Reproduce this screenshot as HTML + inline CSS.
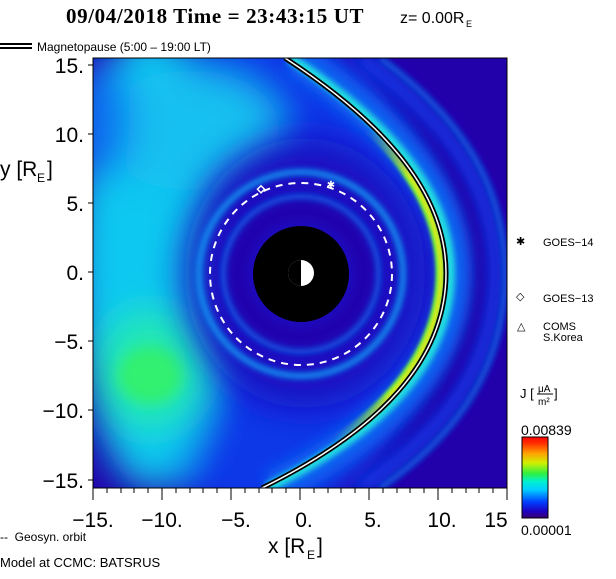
<!DOCTYPE html>
<html><head><style>
body{margin:0;background:#fff;width:616px;height:574px;overflow:hidden;font-family:"Liberation Sans",sans-serif}
svg text{font-family:"Liberation Sans",sans-serif}
</style></head><body>
<svg width="616" height="574" viewBox="0 0 616 574" xmlns="http://www.w3.org/2000/svg">
<defs>
<filter id="b20" x="-50%" y="-50%" width="200%" height="200%"><feGaussianBlur stdDeviation="18"/></filter>
<filter id="b8" x="-50%" y="-50%" width="200%" height="200%"><feGaussianBlur stdDeviation="7"/></filter>
<filter id="b3" x="-50%" y="-50%" width="200%" height="200%"><feGaussianBlur stdDeviation="3"/></filter>
<filter id="b2" x="-50%" y="-50%" width="200%" height="200%"><feGaussianBlur stdDeviation="1.5"/></filter>
<clipPath id="c"><rect x="93" y="58" width="414" height="430"/></clipPath>
<linearGradient id="mg" x1="0" y1="0" x2="0" y2="1" gradientUnits="userSpaceOnUse" x1-="0">
</linearGradient>
<linearGradient id="mgy" gradientUnits="userSpaceOnUse" x1="0" y1="130" x2="0" y2="440">
<stop offset="0" stop-color="#000"/><stop offset="0.15" stop-color="#fff"/><stop offset="0.85" stop-color="#fff"/><stop offset="1" stop-color="#000"/>
</linearGradient>
<mask id="my"><rect x="93" y="58" width="414" height="430" fill="url(#mgy)"/></mask>
<linearGradient id="cb" x1="0" y1="1" x2="0" y2="0">
<stop offset="0" stop-color="#3a0070"/><stop offset="0.08" stop-color="#2000c0"/><stop offset="0.2" stop-color="#0040ff"/><stop offset="0.35" stop-color="#00d0ff"/><stop offset="0.45" stop-color="#00f0d0"/><stop offset="0.55" stop-color="#30f040"/><stop offset="0.68" stop-color="#d0f000"/><stop offset="0.8" stop-color="#ffa000"/><stop offset="0.92" stop-color="#ff3000"/><stop offset="1" stop-color="#ff0000"/>
</linearGradient>
</defs>
<text x="66" y="23" font-size="21" font-weight="bold" letter-spacing="0.6" style="font-family:'Liberation Serif',serif">09/04/2018 Time = 23:43:15 UT</text>
<text x="400" y="23" font-size="16">z= 0.00R</text><text x="466" y="27" font-size="9">E</text>
<line x1="0" y1="44" x2="32" y2="44" stroke="#000" stroke-width="2"/><line x1="0" y1="48" x2="32" y2="48" stroke="#000" stroke-width="2"/>
<text x="37" y="51" font-size="12">Magnetopause (5:00 – 19:00 LT)</text>
<g clip-path="url(#c)">
<rect x="93" y="58" width="414" height="430" fill="#2200aa"/>
<g filter="url(#b20)">
<ellipse cx="260" cy="272" rx="175" ry="250" fill="#0838e8"/>
<ellipse cx="150" cy="260" rx="75" ry="230" fill="#10c8f0"/>
<ellipse cx="190" cy="130" rx="90" ry="60" fill="#14c0f0"/>
<ellipse cx="150" cy="370" rx="55" ry="60" fill="#20e8b0"/>
<ellipse cx="100" cy="120" rx="30" ry="60" fill="#0a70f0"/>
</g>
<ellipse cx="150" cy="375" rx="32" ry="28" fill="#30f070" filter="url(#b8)"/>
<ellipse cx="305" cy="273" rx="120" ry="135" fill="#1a0cc0" filter="url(#b20)"/>
<circle cx="301" cy="274" r="102" fill="none" stroke="#1090f0" stroke-width="6" filter="url(#b3)"/>
<circle cx="301" cy="274" r="77" fill="none" stroke="#1070f0" stroke-width="5" filter="url(#b3)"/>
<circle cx="301" cy="274" r="63" fill="none" stroke="#2200aa" stroke-width="18" filter="url(#b8)"/>
<path d="M295,58 C390,120 455,190 455,273 C455,360 390,430 272,488" fill="none" stroke="#0a60f0" stroke-width="34" filter="url(#b8)"/>
<path d="M290,58 C385,120 450,190 450,273 C450,360 385,430 267,488" fill="none" stroke="#20e0e0" stroke-width="10" filter="url(#b3)"/>
<g mask="url(#my)"><path d="M279,58 C374,120 440,190 440,273 C440,360 374,430 256,488" fill="none" stroke="#70f040" stroke-width="9" filter="url(#b2)"/>
<path d="M280,58 C375,120 441,190 441,273 C441,360 375,430 257,488" fill="none" stroke="#e8e818" stroke-width="4" filter="url(#b2)"/></g>
<path d="M360,58 C450,120 495,190 495,273 C495,360 450,430 360,488" fill="none" stroke="#0a40f0" stroke-width="12" filter="url(#b8)"/>
<path d="M380,58 C465,120 505,190 505,273 C505,360 465,430 380,488" fill="none" stroke="#1060e0" stroke-width="5" filter="url(#b3)"/>
<path d="M285,58 C380,120 446,190 446,273 C446,360 380,430 262,488" fill="none" stroke="#000" stroke-width="5"/>
<path d="M285,58 C380,120 446,190 446,273 C446,360 380,430 262,488" fill="none" stroke="#fff" stroke-width="1.5"/>
<circle cx="301" cy="274" r="91" fill="none" stroke="#fff" stroke-width="2" stroke-dasharray="7,6"/>
<circle cx="301" cy="274" r="48" fill="#000"/>
<circle cx="301" cy="273" r="13" fill="#fff"/>
<path d="M301,260 A13,13 0 0 0 301,286 Z" fill="#000"/>
<text x="331" y="188" fill="#fff" font-size="10" text-anchor="middle">✱</text>
<rect x="258" y="187" width="5" height="5" fill="none" stroke="#fff" stroke-width="1.5" transform="rotate(45 261 190)"/>
</g>
<rect x="93" y="58" width="414" height="430" fill="none" stroke="#000" stroke-width="1"/>
<g stroke="#000" stroke-width="1">
<path d="M93,488v12M162,488v12M231,488v12M300,488v12M369,488v12M438,488v12M507,488v12"/>
<path d="M107,488v5M121,488v5M134,488v5M148,488v5M176,488v5M190,488v5M203,488v5M217,488v5M245,488v5M259,488v5M272,488v5M286,488v5M314,488v5M328,488v5M341,488v5M355,488v5M383,488v5M397,488v5M410,488v5M424,488v5M452,488v5M466,488v5M479,488v5M493,488v5"/>
<path d="M93,65h-5M93,134h-5M93,203h-5M93,272h-5M93,341h-5M93,410h-5M93,480h-5"/>
</g>
<g font-size="21" text-anchor="end">
<text x="84" y="73">15.</text><text x="84" y="142">10.</text><text x="84" y="211">5.</text><text x="84" y="280">0.</text><text x="84" y="349">−5.</text><text x="84" y="418">−10.</text><text x="84" y="488">−15.</text>
</g>
<g font-size="21" text-anchor="middle">
<text x="93" y="527">−15.</text><text x="162" y="527">−10.</text><text x="236" y="527">−5.</text><text x="304" y="527">0.</text><text x="373" y="527">5.</text><text x="442" y="527">10.</text><text x="496" y="527">15</text>
</g>
<text x="0" y="176" font-size="21">y [R</text><text x="37" y="182" font-size="12">E</text><text x="47" y="176" font-size="21">]</text>
<text x="268" y="553" font-size="21">x [R</text><text x="307" y="559" font-size="12">E</text><text x="317" y="553" font-size="21">]</text>
<text x="0" y="541" font-size="12">-- &#160;Geosyn. orbit</text>
<text x="0" y="567" font-size="13">Model at CCMC: BATSRUS</text>
<text x="516" y="245" font-size="11">✱</text><text x="543" y="246" font-size="11">GOES−14</text>
<text x="516" y="300" font-size="11">◇</text><text x="543" y="302" font-size="11">GOES−13</text>
<text x="517" y="330" font-size="11">△</text><text x="543" y="330" font-size="11">COMS</text><text x="543" y="341" font-size="11">S.Korea</text>
<text x="520" y="398" font-size="13">J [</text><text x="538" y="392" font-size="10">μA</text><line x1="537" y1="394" x2="553" y2="394" stroke="#000"/><text x="538" y="405" font-size="10">m²</text><text x="554" y="398" font-size="13">]</text>
<text x="521" y="435" font-size="14">0.00839</text>
<rect x="522" y="437" width="26" height="81" fill="url(#cb)" stroke="#000"/>
<text x="521" y="535" font-size="14">0.00001</text>
</svg>
</body></html>
